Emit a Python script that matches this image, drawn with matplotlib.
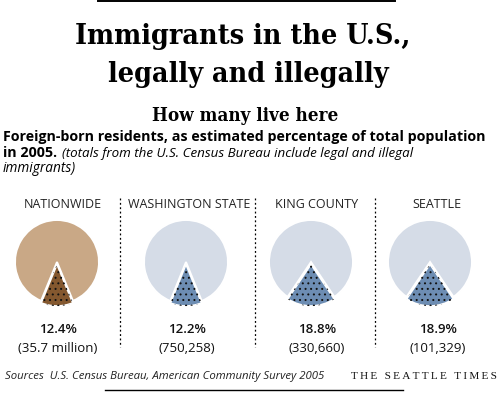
import matplotlib
matplotlib.use("Agg")
import matplotlib.pyplot as plt
from matplotlib.lines import Line2D

# ---- data ----
regions = ["NATIONWIDE", "WASHINGTON STATE", "KING COUNTY", "SEATTLE"]
pct_foreign = [12.4, 12.2, 18.8, 18.9]
counts = ["(35.7 million)", "(750,258)", "(330,660)", "(101,329)"]

title_lines = ["Immigrants in the U.S.,", "legally and illegally"]
subhead = "How many live here"
desc_bold1 = "Foreign-born residents, as estimated percentage of total population"
desc_bold2 = "in 2005."
desc_ital2 = "(totals from the U.S. Census Bureau include legal and illegal"
desc_ital3 = "immigrants)"
source = "Sources  U.S. Census Bureau, American Community Survey 2005"
credit = "THE SEATTLE TIMES"

# ---- style ----
W, H = 500, 393
fig = plt.figure(figsize=(W / 100, H / 100), dpi=100)
fig.patch.set_facecolor("white")

def fx(x):
    return x / W

def fy(y):
    return 1 - y / H

SANS = ["Open Sans", "DejaVu Sans"]
SERIF = ["DejaVu Serif", "Liberation Serif"]

# top & bottom rules
fig.add_artist(Line2D([fx(98), fx(395)], [fy(0.7), fy(0.7)], color="black", lw=1.4))
fig.add_artist(Line2D([fx(105), fx(403)], [fy(390), fy(390)], color="black", lw=1.0))

# title
fig.text(fx(243), fy(44), title_lines[0], ha="center", va="baseline",
         fontsize=20.5, fontweight="heavy", family=SERIF, fontstretch="condensed")
fig.text(fx(248), fy(82), title_lines[1], ha="center", va="baseline",
         fontsize=20.5, fontweight="heavy", family=SERIF, fontstretch="condensed")
fig.text(fx(245), fy(121), subhead, ha="center", va="baseline",
         fontsize=13.5, fontweight="bold", family=SERIF, fontstretch="condensed")

# description
fig.text(fx(3), fy(141), desc_bold1, ha="left", va="baseline",
         fontsize=10.3, fontweight="bold", family=SANS)
fig.text(fx(3), fy(157), desc_bold2, ha="left", va="baseline",
         fontsize=10.3, fontweight="bold", family=SANS)
fig.text(fx(62), fy(157), desc_ital2, ha="left", va="baseline",
         fontsize=9.6, style="italic", family=SANS)
fig.text(fx(3), fy(172), desc_ital3, ha="left", va="baseline",
         fontsize=9.8, style="italic", family=SANS)

# columns
label_x = [63, 189, 317, 437]
pie_cx = [57, 186, 311, 430]
text_x = [58, 187, 317, 438]
pie_cy = 262
radius_px = 42
span = 1.12
sep_x = [120, 255, 375]

big_colors = ["#c9a886", "#d5dce7", "#d5dce7", "#d5dce7"]
small_colors = ["#84582f", "#6d8db3", "#6d8db3", "#6d8db3"]

plt.rcParams["hatch.linewidth"] = 0.7

for i, name in enumerate(regions):
    fig.text(fx(label_x[i]), fy(208), name, ha="center", va="baseline",
             fontsize=9, family=SANS, color="#222222")
    size = 2 * radius_px * span
    ax = fig.add_axes([fx(pie_cx[i] - size / 2), fy(pie_cy + size / 2),
                       size / W, size / H])
    p = pct_foreign[i]
    vals = [p, 100 - p]
    start = 270 - p * 3.6 / 2
    ax.pie(vals, colors=[small_colors[i], big_colors[i]], startangle=start,
           explode=[0.05, 0], radius=1,
           wedgeprops=dict(edgecolor="white", linewidth=1.4))
    ax.pie(vals, colors=["none", "none"], startangle=start,
           explode=[0.05, 0], radius=1, hatch=["...", ""],
           wedgeprops=dict(edgecolor="#111111", linewidth=0))
    ax.set_xlim(-span, span)
    ax.set_ylim(-span, span)
    ax.set_aspect("equal")
    ax.axis("off")

    fig.text(fx(text_x[i]), fy(333), f"{p}%", ha="center", va="baseline",
             fontsize=9.5, family=SANS, fontweight="semibold", color="#111111")
    fig.text(fx(text_x[i]), fy(352), counts[i], ha="center", va="baseline",
             fontsize=9.5, family=SANS, color="#111111")

for x in sep_x:
    fig.add_artist(Line2D([fx(x), fx(x)], [fy(198), fy(347)], color="black",
                          lw=0.9, linestyle=(0, (1.5, 2))))

fig.text(fx(5), fy(379), source, ha="left", va="baseline",
         fontsize=8.2, style="italic", family=SANS, color="#222222")
fig.text(fx(497), fy(379), "\u2009".join(credit), ha="right", va="baseline",
         fontsize=8.1, family=["Liberation Serif", "DejaVu Serif"], color="#111111")

fig.savefig("out.png", dpi=100)
